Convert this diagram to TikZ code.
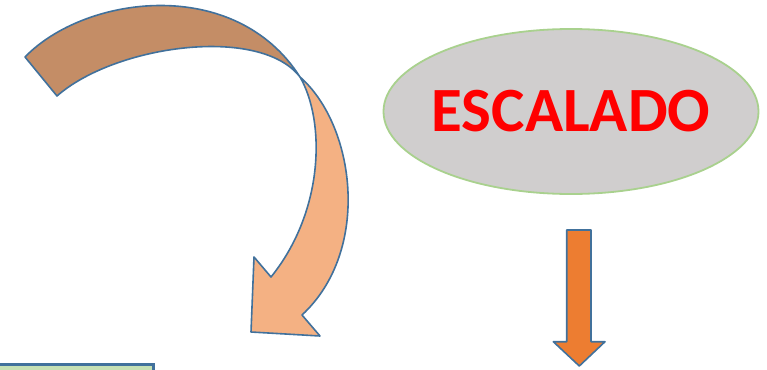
\documentclass[tikz,border=0pt]{standalone}
\usepackage{fontspec}
\setmainfont{Carlito}
\usetikzlibrary{shapes.geometric}
\definecolor{edgeblue}{HTML}{41719C}
\definecolor{brownband}{HTML}{C48D66}
\definecolor{peachband}{HTML}{F4B183}
\definecolor{ellgray}{HTML}{D0CECE}
\definecolor{ellgreen}{HTML}{A9D18E}
\definecolor{arroworange}{HTML}{ED7D31}
\definecolor{boxgreen}{HTML}{C5E0B4}
\tikzset{
  bandshape/.style={draw=edgeblue, line width=1.6pt, line join=round},
  titleell/.style={ellipse, draw=ellgreen, fill=ellgray, line width=1.8pt,
    minimum width=375pt, minimum height=165pt, inner sep=0pt},
  titletext/.style={text=red, inner sep=0pt, font=\bfseries\fontsize{63}{63}\selectfont},
}
\begin{document}
\begin{tikzpicture}[x=1pt,y=-1pt]
\useasboundingbox (0,0) rectangle (767,369);
\clip (0,0) rectangle (767,369);
% curved arrow, back band
\draw[bandshape, fill=brownband]
  (25,57) .. controls (85,-5) and (235,-25) .. (300,77)
  .. controls (260,25) and (115,45) .. (57,96) -- cycle;
% curved arrow, front band with head
\draw[bandshape, fill=peachband]
  (300,77) .. controls (355,125) and (372,250) .. (302,315)
  -- (320,336) -- (251,332) -- (254,257) -- (271,277)
  .. controls (325,210) and (325,120) .. (300,77) -- cycle;
% ellipse
\node[titleell] (esc) at (571,111.5) {};
\node[titletext] (esctext) at (esc.center) {ESCALADO};
% down arrow
\draw[bandshape, fill=arroworange]
  (566.7,230) -- (591,230) -- (591,341.7) -- (605,341.7) -- (579.3,366)
  -- (553.3,341.7) -- (566.7,341.7) -- cycle;
% bottom-left box
\draw[draw=edgeblue, fill=boxgreen, line width=2.5pt] (-5,364.5) rectangle (153.5,380);
\end{tikzpicture}
\end{document}
